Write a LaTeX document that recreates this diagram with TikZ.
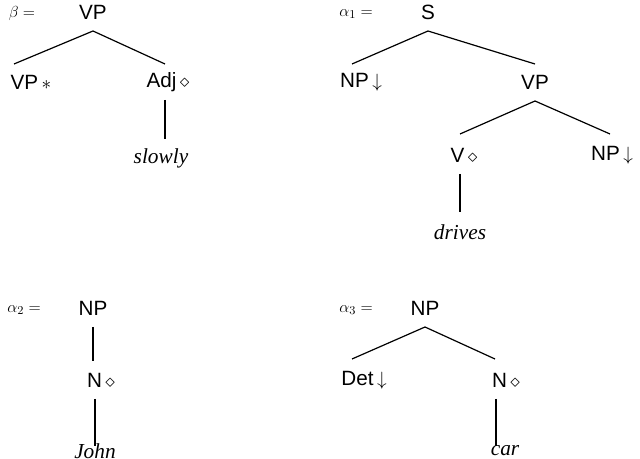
\documentclass[tikz,border=0pt]{standalone}
\usepackage{fontspec}
\setmainfont{Liberation Sans}
\newfontfamily\wordfont{Liberation Serif}
\begin{document}
\begin{tikzpicture}[x=0.75pt,y=-0.75pt,
 lab/.style={font=\fontsize{15.5}{17}\selectfont,inner sep=0pt},
 wrd/.style={font=\wordfont\itshape\fontsize{16}{17}\selectfont,inner sep=0pt},
 eq/.style={font=\fontsize{12.5}{14}\selectfont,inner sep=0pt},
 br/.style={line width=0.9pt}]
\useasboundingbox (0,0) rectangle (640,459);
% beta
\node[eq] (be) at (22,14) {$\beta =$};
\node[lab] (b0) at (93,12) {VP};
\node[lab] (b1) at (31,82) {VP\,$*$};
\node[lab] (b2) at (168,82) {Adj\,$\diamond$};
\node[wrd] (b3) at (161,158) {slowly};
\coordinate (b0s) at (93,31); \coordinate (b1n) at (14,64); \coordinate (b2n) at (165,64);
\coordinate (b2s) at (165,100); \coordinate (b3n) at (165,139);
\draw[br] (b1n) -- (b0s) -- (b2n); \draw[br] (b2s) -- (b3n);
% alpha1
\node[eq] (a1) at (356,14) {$\alpha_1 =$};
\node[lab] (s) at (428,12) {S};
\node[lab] (np1) at (361,82) {NP\,$\downarrow$};
\node[lab] (vp1) at (535,82) {VP};
\node[lab] (v) at (464,155) {V\,$\diamond$};
\node[lab] (np2) at (612,155) {NP\,$\downarrow$};
\node[wrd] (dr) at (460,232) {drives};
\coordinate (ss) at (428,31); \coordinate (np1n) at (352,64); \coordinate (vp1n) at (535,64);
\coordinate (vp1s) at (535,101); \coordinate (vn) at (460,134); \coordinate (np2n) at (610,134);
\coordinate (vs) at (460,174); \coordinate (drn) at (460,212);
\draw[br] (np1n) -- (ss) -- (vp1n); \draw[br] (vn) -- (vp1s) -- (np2n); \draw[br] (vs) -- (drn);
% alpha2
\node[eq] (a2) at (24,310) {$\alpha_2 =$};
\node[lab] (np3) at (93,308) {NP};
\node[lab] (n1) at (101,380) {N\,$\diamond$};
\node[wrd] (jo) at (95,451) {John};
\coordinate (np3s) at (93,327); \coordinate (n1n) at (93,361);
\coordinate (n1s) at (95,399); \coordinate (jon) at (95,446);
\draw[br] (np3s) -- (n1n); \draw[br] (n1s) -- (jon);
% alpha3
\node[eq] (a3) at (356,310) {$\alpha_3 =$};
\node[lab] (np4) at (425,308) {NP};
\node[lab] (det) at (364,380) {Det\,$\downarrow$};
\node[lab] (n2) at (506,380) {N\,$\diamond$};
\node[wrd] (car) at (505,451) {car};
\coordinate (np4s) at (425,327); \coordinate (detn) at (352,359); \coordinate (n2n) at (495,359);
\coordinate (n2s) at (496,399); \coordinate (carn) at (496,446);
\draw[br] (detn) -- (np4s) -- (n2n); \draw[br] (n2s) -- (carn);
\end{tikzpicture}
\end{document}
